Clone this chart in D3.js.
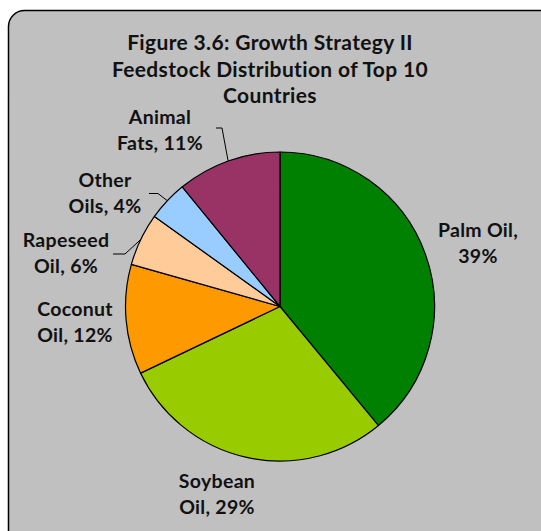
<!DOCTYPE html>
<html>
<head>
<meta charset="utf-8">
<script src="https://cdn.jsdelivr.net/npm/d3@7"></script>
<style>
  html, body { margin: 0; padding: 0; background: #fff; }
  svg { display: block; }
  text { font-family: Lato, "Open Sans", sans-serif; font-weight: bold; fill: #111; }
</style>
</head>
<body>
<script>
// ---- Data ----
const categories = ["Palm Oil", "Soybean Oil", "Coconut Oil", "Rapeseed Oil", "Other Oils", "Animal Fats"];
const values = [39.0, 28.9, 11.5, 5.5, 4.2, 10.9];
const percentLabels = ["39%", "29%", "12%", "6%", "4%", "11%"];
const labelLines = [
  ["Palm Oil,", "39%"],
  ["Soybean", "Oil, 29%"],
  ["Coconut", "Oil, 12%"],
  ["Rapeseed", "Oil, 6%"],
  ["Other", "Oils, 4%"],
  ["Animal", "Fats, 11%"]
];
const colors = ["#008000", "#99CC00", "#FF9900", "#FFCC99", "#99CCFF", "#993366"];
const titleLines = ["Figure 3.6: Growth Strategy II", "Feedstock Distribution of Top 10", "Countries"];

// ---- Layout ----
const W = 541, H = 531;
const cx = 280, cy = 306.5, R = 154.5;
const labelPos = [
  {x: 478, y: 237},
  {x: 217, y: 488},
  {x: 75, y: 316},
  {x: 66, y: 247},
  {x: 105, y: 187},
  {x: 160, y: 124}
];
const leaderStart = [null, null, null,
  {x1: 113, y1: 254, x2: 125},
  {x1: 149, y1: 193.5, x2: 158},
  {x1: 216, y1: 128, x2: 222}
];

const svg = d3.select("body").append("svg").attr("width", W).attr("height", H);

svg.append("rect")
  .attr("x", 8.5).attr("y", 10.5)
  .attr("width", 560).attr("height", 560)
  .attr("rx", 16).attr("ry", 16)
  .attr("fill", "#C0C0C0").attr("stroke", "#000").attr("stroke-width", 1.5);

// Title
const title = svg.append("text").attr("text-anchor", "middle")
  .style("font-size", "21px").style("letter-spacing", "0.35px");
titleLines.forEach((t, i) => {
  title.append("tspan").attr("x", 270).attr("y", 50 + i * 26.5).text(t);
});

const pie = d3.pie().sort(null).value(d => d)(values);
const arc = d3.arc().innerRadius(0).outerRadius(R);

const g = svg.append("g").attr("transform", `translate(${cx},${cy})`);
g.selectAll("path").data(pie).join("path")
  .attr("d", arc)
  .attr("fill", (d, i) => colors[i])
  .attr("stroke", "#000").attr("stroke-width", 1.2).attr("stroke-linejoin", "round");

pie.forEach((d, i) => {
  const s = leaderStart[i];
  if (!s) return;
  const mid = (d.startAngle + d.endAngle) / 2;
  const ex = cx + R * Math.sin(mid), ey = cy - R * Math.cos(mid);
  svg.append("path")
    .attr("d", `M${s.x1},${s.y1}L${s.x2},${s.y1}L${ex},${ey}`)
    .attr("fill", "none").attr("stroke", "#000").attr("stroke-width", 1);
});

labelLines.forEach((lines, i) => {
  const t = svg.append("text").attr("text-anchor", "middle")
    .style("font-size", "19.5px").style("letter-spacing", "0.3px");
  lines.forEach((l, j) => {
    t.append("tspan").attr("x", labelPos[i].x).attr("y", labelPos[i].y + j * 25.5).text(l);
  });
});
</script>
</body>
</html>
